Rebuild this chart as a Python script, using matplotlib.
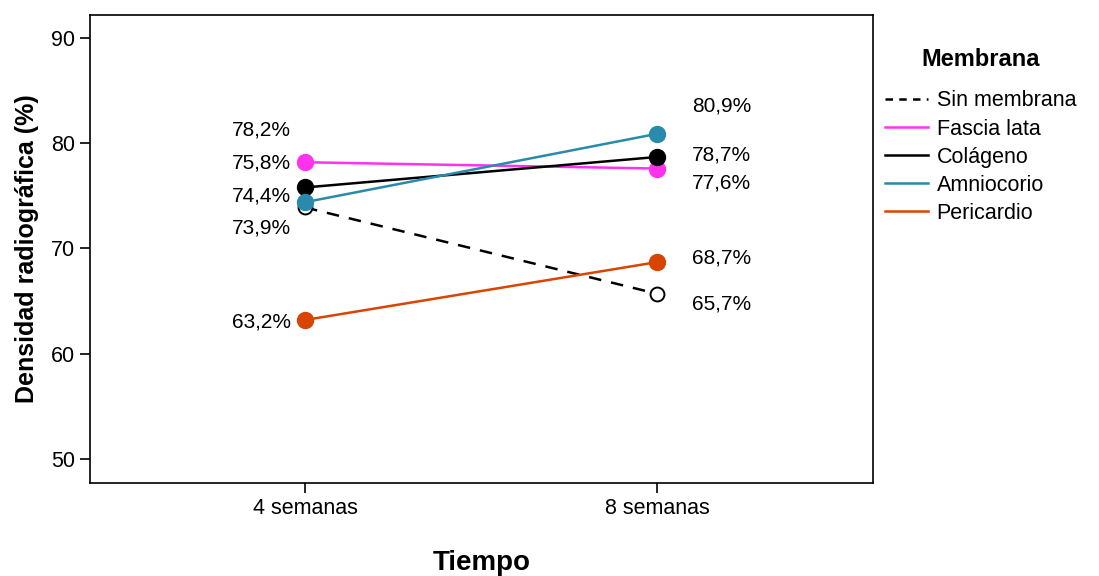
import matplotlib.pyplot as plt
from matplotlib.lines import Line2D

plt.rcParams['font.family'] = ['Liberation Sans', 'DejaVu Sans']

times = ['4 semanas', '8 semanas']
series = ['Sin membrana', 'Fascia lata', 'Colágeno', 'Amniocorio', 'Pericardio']
values = {
    'Sin membrana': [73.9, 65.7],
    'Fascia lata': [78.2, 77.6],
    'Colágeno': [75.8, 78.7],
    'Amniocorio': [74.4, 80.9],
    'Pericardio': [63.2, 68.7],
}
colors = {
    'Sin membrana': 'black',
    'Fascia lata': '#ff33ee',
    'Colágeno': 'black',
    'Amniocorio': '#2a8aab',
    'Pericardio': '#d94400',
}
# label placement (y in data units) as drawn in the original, not at the points
label_y = {
    'Sin membrana': [71.9, 64.7],
    'Fascia lata': [81.3, 76.2],
    'Colágeno': [78.1, 78.9],
    'Amniocorio': [75.0, 83.5],
    'Pericardio': [63.0, 69.1],
}

fig = plt.figure(figsize=(10.99, 5.76), dpi=100)
ax = fig.add_axes([90 / 1099, 1 - 483 / 576, 783 / 1099, 468 / 576])

x = list(range(len(times)))
for name in series:
    dashed = name == 'Sin membrana'
    ax.plot(x, values[name], color=colors[name], lw=1.8,
            ls=(0, (5, 4)) if dashed else '-', zorder=2)
    if dashed:
        ax.plot(x, values[name], 'o', ms=10, mfc='white', mec='black', mew=1.4,
                ls='none', zorder=3)
    else:
        ax.plot(x, values[name], 'o', ms=11.5, color=colors[name], ls='none', zorder=3)
    for i, v in enumerate(values[name]):
        lbl = f'{v:.1f}%'.replace('.', ',')
        if i == 0:
            ax.text(x[i] - 0.04, label_y[name][i], lbl, ha='right', va='center', fontsize=15)
        else:
            ax.text(x[i] + 0.1, label_y[name][i], lbl, ha='left', va='center', fontsize=15)

ax.set_xlim(-0.611, 1.614)
ax.set_ylim(47.7, 92.2)
ax.set_xticks(x)
ax.set_xticklabels(times)
ax.set_yticks([50, 60, 70, 80, 90])
ax.tick_params(axis='both', direction='out', length=7, width=1.2, labelsize=15.5, pad=4)
for s in ax.spines.values():
    s.set_linewidth(1.2)

ax.set_ylabel('Densidad radiográfica (%)', fontsize=18, fontweight='bold', labelpad=8)
ax.set_xlabel('Tiempo', fontsize=20, fontweight='bold', labelpad=22)

handles = [Line2D([], [], color=colors[n], lw=1.8,
                  ls=(0, (3, 2.5)) if n == 'Sin membrana' else '-') for n in series]
leg = fig.legend(handles, series, title='Membrana', loc='upper left',
                 bbox_to_anchor=(885 / 1099, 1 - 48 / 576), frameon=False,
                 fontsize=15.5, handlelength=2.0, handletextpad=0.4,
                 labelspacing=0.33, borderaxespad=0, borderpad=0)
leg.get_title().set_fontweight('bold')
leg.get_title().set_fontsize(17)
leg._legend_box.sep = 14

fig.savefig('out.png', dpi=100)
